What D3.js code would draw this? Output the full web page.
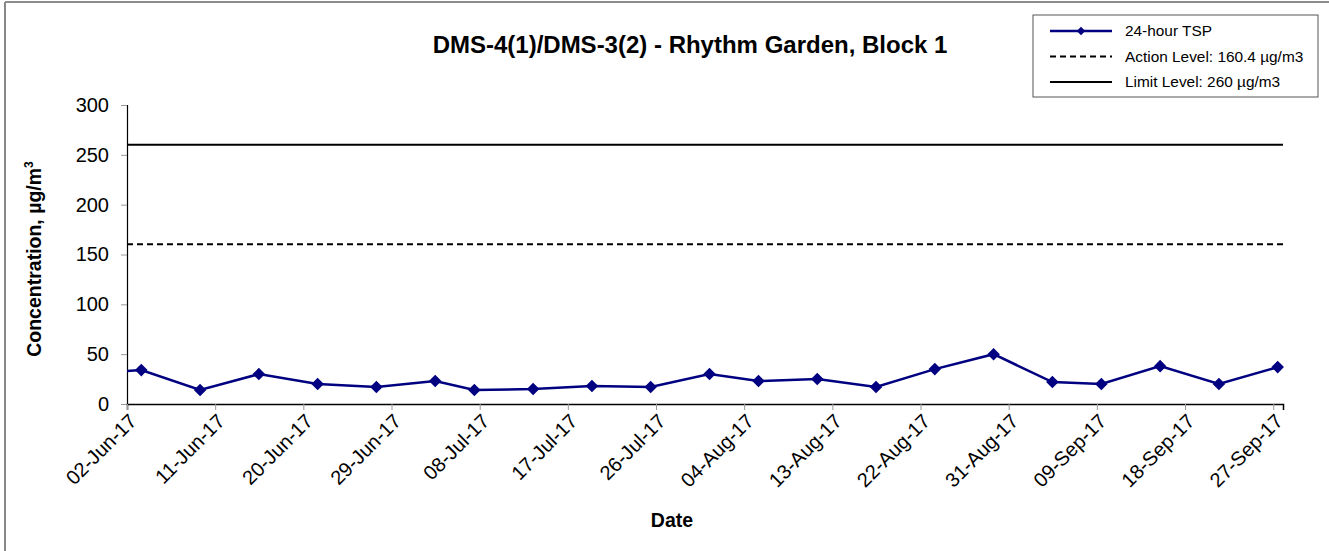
<!DOCTYPE html>
<html>
<head>
<meta charset="utf-8">
<script src="https://cdn.jsdelivr.net/npm/d3@7"></script>
<style>
  body { margin: 0; background: #fff; }
  svg { font-family: Arial, "Liberation Sans", sans-serif; }
</style>
</head>
<body>
<div id="chart"></div>
<script>
// data
const dates = ["2017-05-28", "2017-06-03", "2017-06-09", "2017-06-15", "2017-06-21", "2017-06-27",
  "2017-07-03", "2017-07-07", "2017-07-13", "2017-07-19", "2017-07-25", "2017-07-31",
  "2017-08-05", "2017-08-11", "2017-08-17", "2017-08-23", "2017-08-29",
  "2017-09-04", "2017-09-09", "2017-09-15", "2017-09-21", "2017-09-27"];
const tsp = [30, 34, 14, 30, 20, 17, 23, 14, 15, 18, 17, 30, 23, 25, 17, 35, 50, 22, 20, 38, 20, 37];
const actionLevel = 160.4;
const limitLevel = 260;
const yTicks = [0, 50, 100, 150, 200, 250, 300];
const legendLabels = ["24-hour TSP", "Action Level: 160.4 \u00b5g/m3", "Limit Level: 260 \u00b5g/m3"];

const W = 1329, H = 551;
const margin = {top: 105, right: 46, bottom: 147, left: 127};
const width = W - margin.left - margin.right;
const height = H - margin.top - margin.bottom;

const parse = d3.timeParse("%Y-%m-%dT%H:%M");
const data = dates.map((d, i) => ({date: parse(d + "T11:00"), value: tsp[i]}));

const x = d3.scaleTime()
  .domain([new Date(2017, 5, 2), new Date(2017, 8, 28)])
  .range([0, width]);
const y = d3.scaleLinear().domain([0, 300]).range([height, 0]);

const svg = d3.select("#chart").append("svg")
  .attr("width", W)
  .attr("height", H);

// chart border
svg.append("line").attr("x1", 5).attr("x2", W).attr("y1", 2).attr("y2", 2)
  .attr("stroke", "#666").attr("stroke-width", 1.5);
svg.append("line").attr("x1", 5).attr("x2", 5).attr("y1", 2).attr("y2", H)
  .attr("stroke", "#888").attr("stroke-width", 2);

const g = svg.append("g")
  .attr("transform", "translate(" + margin.left + "," + margin.top + ")");

g.append("clipPath").attr("id", "clip")
  .append("rect").attr("x", 0).attr("y", -10).attr("width", width).attr("height", height + 20);

// y axis
const yAxis = g.append("g")
  .call(d3.axisLeft(y).tickValues(yTicks).tickSize(6).tickPadding(12));
yAxis.select(".domain").attr("stroke", "#000").attr("stroke-width", 1.2);
yAxis.selectAll(".tick line").attr("stroke", "#999");
yAxis.selectAll(".tick text").attr("font-size", 20).attr("fill", "#000");

// x axis
const xTicks = d3.timeDay.every(1).range(new Date(2017, 5, 2), new Date(2017, 8, 29))
  .filter((d, i) => i % 9 === 0);
const xAxis = g.append("g")
  .attr("transform", "translate(0," + height + ")")
  .call(d3.axisBottom(x).tickValues(xTicks).tickFormat(d3.timeFormat("%d-%b-%y")).tickSize(6));
xAxis.select(".domain").attr("stroke", "#000").attr("stroke-width", 1.5);
xAxis.selectAll(".tick line").attr("stroke", "#999");
xAxis.selectAll(".tick text")
  .attr("font-size", 20)
  .attr("fill", "#000")
  .attr("text-anchor", "end")
  .attr("dy", null)
  .attr("transform", "translate(4,12) rotate(-45)");

// level lines
g.append("line")
  .attr("x1", 0).attr("x2", width)
  .attr("y1", y(limitLevel)).attr("y2", y(limitLevel))
  .attr("stroke", "#000").attr("stroke-width", 2);
g.append("line")
  .attr("x1", 0).attr("x2", width)
  .attr("y1", y(actionLevel)).attr("y2", y(actionLevel))
  .attr("stroke", "#000").attr("stroke-width", 2)
  .attr("stroke-dasharray", "6,4");

// TSP line
const line = d3.line().x(d => x(d.date)).y(d => y(d.value));
g.append("path")
  .datum(data)
  .attr("clip-path", "url(#clip)")
  .attr("fill", "none")
  .attr("stroke", "#000080")
  .attr("stroke-width", 2.5)
  .attr("d", line);

const diamond = d3.symbol().type(d3.symbolDiamond2).size(100);
g.append("g")
  .selectAll("path")
  .data(data.filter(d => d.date >= x.domain()[0]))
  .enter()
  .append("path")
  .attr("d", diamond)
  .attr("transform", d => "translate(" + x(d.date) + "," + y(d.value) + ")")
  .attr("fill", "#000080");

// title
svg.append("text")
  .attr("x", 690)
  .attr("y", 53)
  .attr("text-anchor", "middle")
  .attr("font-size", 24)
  .attr("font-weight", "bold")
  .text("DMS-4(1)/DMS-3(2) - Rhythm Garden, Block 1");

// axis titles
svg.append("text")
  .attr("transform", "translate(41,259) rotate(-90)")
  .attr("text-anchor", "middle")
  .attr("font-size", 19.5)
  .attr("font-weight", "bold")
  .html("Concentration, \u00b5g/m<tspan dy='-8' font-size='12'>3</tspan>");

svg.append("text")
  .attr("x", 672)
  .attr("y", 527)
  .attr("text-anchor", "middle")
  .attr("font-size", 19.5)
  .attr("font-weight", "bold")
  .text("Date");

// legend
const legend = svg.append("g").attr("transform", "translate(1033,15)");
legend.append("rect")
  .attr("width", 285).attr("height", 82)
  .attr("fill", "#fff").attr("stroke", "#555").attr("stroke-width", 1);
const rows = legend.selectAll("g.row")
  .data(legendLabels)
  .enter().append("g")
  .attr("transform", (d, i) => "translate(0," + (16 + i * 25.5) + ")");
rows.append("line")
  .attr("x1", 17).attr("x2", 79)
  .attr("stroke", (d, i) => i === 0 ? "#000080" : "#000")
  .attr("stroke-width", (d, i) => i === 0 ? 2.5 : 2)
  .attr("stroke-dasharray", (d, i) => i === 1 ? "6,4" : null);
rows.filter((d, i) => i === 0).append("path")
  .attr("d", d3.symbol().type(d3.symbolDiamond2).size(45))
  .attr("transform", "translate(48,0)")
  .attr("fill", "#000080");
rows.append("text")
  .attr("x", 92)
  .attr("dy", "0.35em")
  .attr("font-size", 15.4)
  .text(d => d);
</script>
</body>
</html>
